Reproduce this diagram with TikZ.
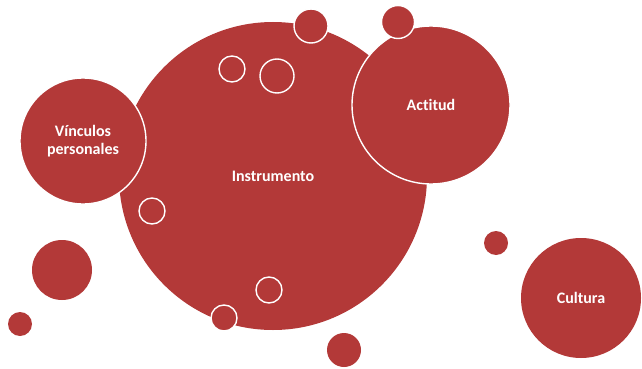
\documentclass[tikz,border=0pt]{standalone}
\usepackage{fontspec}
\setmainfont[Ligatures=NoCommon]{Carlito}
\definecolor{bubble}{RGB}{179,57,56}
\begin{document}
\begin{tikzpicture}[x=1pt,y=-1pt,
  label text/.style={text=white,font=\bfseries\fontsize{16}{18.5}\selectfont,align=center},
  blob/.style={circle,fill=bubble,draw=white,line width=1.4pt,inner sep=0pt,label text},
  plain/.style={circle,fill=bubble,inner sep=0pt,label text}]
  \useasboundingbox (0,0) rectangle (642,369);
  % main bubble and its neighbours
  \node[plain,minimum size=308pt] (instr) at (273,176) {Instrumento};
  \node[blob,minimum size=126pt] (vinc) at (83,141) {Vínculos\\personales};
  \node[blob,minimum size=158pt] (act) at (431,105) {Actitud};
  \node[plain,minimum size=120pt] (cult) at (581,298) {Cultura};
  % small filled bubbles
  \node[blob,minimum size=34pt] (s1) at (311,26) {};
  \node[blob,minimum size=33pt] (s2) at (398,22) {};
  \node[plain,minimum size=60pt] (s3) at (62,270) {};
  \node[plain,minimum size=24pt] (s4) at (20,324) {};
  \node[plain,minimum size=24pt] (s5) at (496,243) {};
  \node[plain,minimum size=34pt] (s6) at (344,350) {};
  \node[blob,minimum size=26pt] (s7) at (224,318) {};
  % outlined rings inside the main bubble
  \node[blob,minimum size=26pt] (r1) at (232,69) {};
  \node[blob,minimum size=34pt] (r2) at (277,76) {};
  \node[blob,minimum size=26pt] (r3) at (152,211) {};
  \node[blob,minimum size=26pt] (r4) at (269,290) {};
\end{tikzpicture}
\end{document}
